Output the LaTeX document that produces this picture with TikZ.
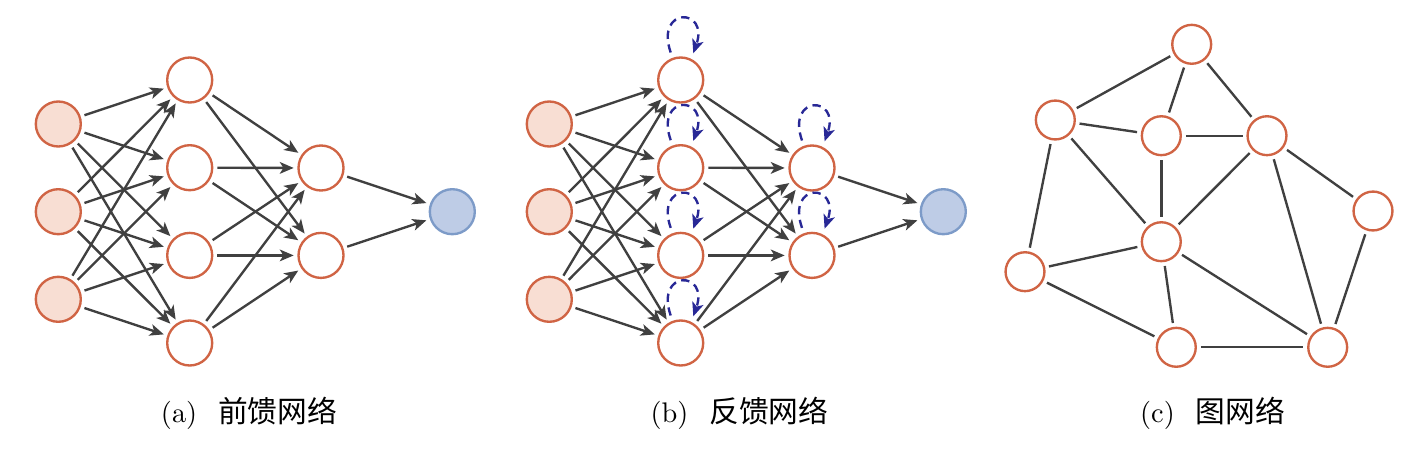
\documentclass[tikz,border=0pt]{standalone}
\usepackage{fontspec}
\newfontfamily\cjk{Noto Sans CJK SC}[Scale=1.05]
\usetikzlibrary{arrows.meta}
\definecolor{nodeedge}{RGB}{208,100,68}
\definecolor{infill}{RGB}{248,222,211}
\definecolor{outfill}{RGB}{190,204,230}
\definecolor{outedge}{RGB}{125,155,200}
\definecolor{edgegray}{RGB}{64,64,64}
\definecolor{loopblue}{RGB}{40,40,150}
\begin{document}
\begin{tikzpicture}[x=0.36pt,y=-0.36pt,
  neuron/.style={circle,draw=nodeedge,line width=0.85pt,minimum size=16.2pt,inner sep=0pt},
  inneuron/.style={neuron,fill=infill},
  outneuron/.style={circle,draw=outedge,fill=outfill,line width=0.85pt,minimum size=16.2pt,inner sep=0pt},
  gnode/.style={circle,draw=nodeedge,line width=0.85pt,minimum size=14pt,inner sep=0pt},
  conn/.style={draw=edgegray,line width=0.85pt,shorten <=1.4pt,shorten >=1.3pt,-{Stealth[length=5pt,width=4.2pt,inset=1.3pt]}},
  gedge/.style={draw=edgegray,line width=0.85pt,shorten <=1.4pt,shorten >=1.4pt},
  rloop/.style={draw=loopblue,line width=0.85pt,dash pattern=on 3pt off 2pt,-{Stealth[length=5pt,width=4.2pt,inset=1.3pt]}},
  caption/.style={font=\fontsize{10.2pt}{12pt}\selectfont,inner sep=0pt,anchor=base}
]
\useasboundingbox (0,0) rectangle (1426,454);

% panels (a) and (b)
\foreach \p/\dx in {a/0,b/491}{
  \foreach \i/\y in {1/124,2/211.7,3/299.3}
    \node[inneuron] (\p-i\i) at (58.3+\dx,\y) {};
  \foreach \j/\y in {1/80,2/167.7,3/255.4,4/343}
    \node[neuron] (\p-h\j) at (189.7+\dx,\y) {};
  \foreach \k/\y in {1/168,2/255.4}
    \node[neuron] (\p-g\k) at (321+\dx,\y) {};
  \node[outneuron] (\p-o) at (452.3+\dx,211.7) {};
  \foreach \i in {1,2,3}
    \foreach \j in {1,2,3,4}
      \draw[conn] (\p-i\i) -- (\p-h\j);
  \foreach \j in {1,2,3,4}
    \foreach \k in {1,2}
      \draw[conn] (\p-h\j) -- (\p-g\k);
  \foreach \k in {1,2}
    \draw[conn] (\p-g\k) -- (\p-o);
}

% recurrent loops in (b)
\foreach \n in {b-h1,b-h2,b-h3,b-h4,b-g1,b-g2}
  \draw[rloop] ([shift={(-10,-27.5)}]\n.center) .. controls +(-16,-46) and +(16,-46) .. ([shift={(12.6,-26.7)}]\n.center);

% panel (c)
\node[gnode] (c-t)  at (1191.7,44.3) {};
\node[gnode] (c-l)  at (1055.3,120) {};
\node[gnode] (c-cu) at (1161.3,135.7) {};
\node[gnode] (c-ru) at (1267,135.7) {};
\node[gnode] (c-fr) at (1373,211) {};
\node[gnode] (c-c)  at (1161.3,241.7) {};
\node[gnode] (c-ll) at (1025,271.7) {};
\node[gnode] (c-bm) at (1176.3,347.3) {};
\node[gnode] (c-br) at (1327.7,347.3) {};
\foreach \u/\v in {t/l,t/cu,t/ru,l/cu,l/c,l/ll,cu/ru,cu/c,ru/c,ru/fr,ru/br,fr/br,c/ll,c/bm,c/br,ll/bm,bm/br}
  \draw[gedge] (c-\u) -- (c-\v);

% captions
\node[caption] (capa) at (249,422.7) {(a)\hspace{7.5pt}{\cjk 前馈网络}};
\node[caption] (capb) at (739.5,422.7) {(b)\hspace{7.5pt}{\cjk 反馈网络}};
\node[caption] (capc) at (1212.5,422.7) {(c)\hspace{7.5pt}{\cjk 图网络}};
\end{tikzpicture}
\end{document}
